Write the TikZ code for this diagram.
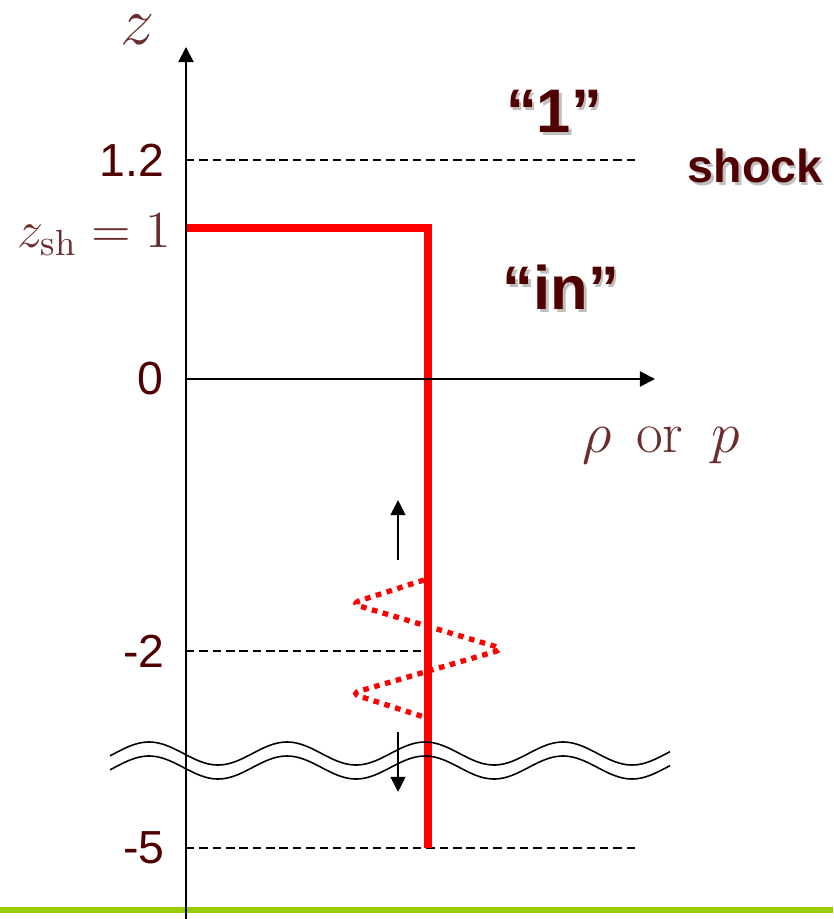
\RequirePackage{fix-cm}
\documentclass[tikz,border=0pt]{standalone}
\usepackage{fontspec}
\newfontfamily\arialfont{Liberation Sans}
\usetikzlibrary{arrows.meta}
\definecolor{sbrown}{RGB}{80,0,0}
\definecolor{smath}{RGB}{105,45,45}
\definecolor{sred}{RGB}{255,0,0}
\definecolor{sgreen}{RGB}{153,204,0}
\newcommand{\shadowed}[1]{\makebox[0pt][l]{\hspace{0.7pt}\raisebox{-0.7pt}{\textcolor{black!25}{#1}}}#1}

\begin{document}
\begin{tikzpicture}[
  axis/.style={-{Triangle[length=4.3pt,width=4.3pt]}, line width=0.55pt},
  guide/.style={dash pattern=on 2.4pt off 1.4pt, line width=0.45pt},
  shockline/.style={sred, line width=2pt},
  wobble/.style={sred, line width=1.5pt, dash pattern=on 1.6pt off 1.6pt, rounded corners=2.5pt},
  motion/.style={-{Triangle[length=4.3pt,width=4.2pt]}, line width=0.5pt},
  breakline/.style={line width=0.45pt},
  num/.style={font=\arialfont\fontsize{13.2}{15}\selectfont, text=sbrown, inner sep=0pt},
  region/.style={font=\arialfont\bfseries\fontsize{17.5}{20}\selectfont, text=sbrown, inner sep=0pt},
  mathlab/.style={text=smath, inner sep=0pt}
]
  \useasboundingbox (-1.86,-5.40) rectangle (6.47,3.79);

  % bottom rule
  \coordinate (gL) at (-1.86,-5.31);
  \coordinate (gR) at (6.47,-5.31);
  \draw[sgreen, line width=1.6pt] (gL) -- (gR);

  % guide levels
  \coordinate (g12) at (0,2.19);   \coordinate (g12e) at (4.54,2.19);
  \coordinate (g2)  at (0,-2.72);  \coordinate (g2e)  at (2.42,-2.72);
  \coordinate (g5)  at (0,-4.69);  \coordinate (g5e)  at (4.54,-4.69);
  \draw[guide] (g12) -- (g12e);
  \draw[guide] (g2)  -- (g2e);
  \draw[guide] (g5)  -- (g5e);

  % shock profile
  \coordinate (shL) at (0,1.51);
  \coordinate (shR) at (2.42,1.51);
  \coordinate (shB) at (2.42,-4.69);
  \draw[shockline] (shL) -- (shR) -- (shB);

  % perturbation
  \coordinate (w0) at (2.38,-2.01);
  \coordinate (w1) at (1.65,-2.245);
  \coordinate (w2) at (3.18,-2.70);
  \coordinate (w3) at (1.65,-3.145);
  \coordinate (w4) at (2.38,-3.38);
  \draw[wobble] (w0) -- (w1) -- (w2) -- (w3) -- (w4);

  \coordinate (upA) at (2.12,-1.81);  \coordinate (upB) at (2.12,-1.21);
  \coordinate (dnA) at (2.12,-3.53);  \coordinate (dnB) at (2.12,-4.13);
  \draw[motion] (upA) -- (upB);
  \draw[motion] (dnA) -- (dnB);

  % axes
  \coordinate (orig) at (0,0);
  \coordinate (zbot) at (0,-5.40);
  \coordinate (ztop) at (0,3.32);
  \coordinate (rtip) at (4.69,0);
  \draw[axis] (zbot) -- (ztop);
  \draw[axis] (orig) -- (rtip);

  % axis break
  \draw[breakline] plot[domain=-0.76:4.84, samples=120, smooth]
    (\x, {-3.745+0.115*cos(deg(2*pi*(\x-2.39)/1.38))});
  \draw[breakline] plot[domain=-0.76:4.84, samples=120, smooth]
    (\x, {-3.885+0.115*cos(deg(2*pi*(\x-2.39)/1.38))});

  % labels
  \node[mathlab, anchor=base] (zlab) at (-0.48,3.34) {\fontsize{19.5}{22}\selectfont$z$};
  \node[mathlab, anchor=base east] (zsh) at (-0.14,1.31) {\fontsize{14.8}{17}\selectfont$z_{\mathrm{sh}}=1$};
  \node[mathlab, anchor=base west] (xlab) at (3.96,-0.74) {\fontsize{16.5}{20}\selectfont$\rho$\hspace{.42em}or\hspace{.48em}$p$};
  \node[num, anchor=east] (l12) at (-0.21,2.19) {1.2};
  \node[num, anchor=east] (l0)  at (-0.22,0) {0};
  \node[num, anchor=east] (l2)  at (-0.21,-2.72) {-2};
  \node[num, anchor=east] (l5)  at (-0.21,-4.69) {-5};

  \node[region, anchor=base] (one)   at (3.68,2.46) {\shadowed{“1”}};
  \node[region, anchor=base, font=\arialfont\bfseries\fontsize{13.2}{15}\selectfont] (shock) at (5.69,1.96) {\shadowed{shock}};
  \node[region, anchor=base] (inner) at (3.75,0.69) {\shadowed{“in”}};
\end{tikzpicture}
\end{document}
